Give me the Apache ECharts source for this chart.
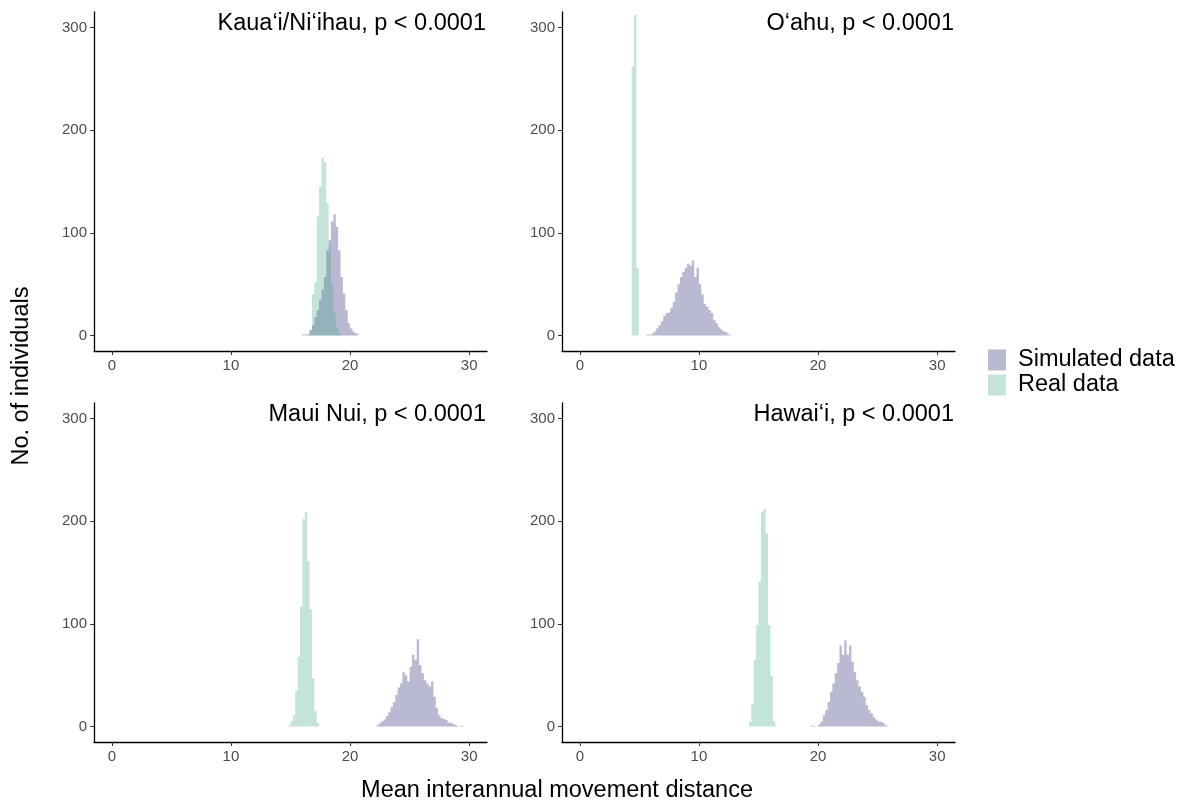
<!DOCTYPE html>
<html>
<head>
<meta charset="utf-8">
<title>Mean interannual movement distance</title>
<script src="https://cdn.jsdelivr.net/npm/echarts@6/dist/echarts.min.js"></script>
<style>
    html, body { margin: 0; padding: 0; background: #fff; }
    #chart { width: 1187px; height: 803px; }
</style>
</head>
<body>
<div id="chart"></div>
<script>
// histogram bins: width of every bin, then the left edge of the first bin and the counts per bin
const binWidth = 0.2;

const panelTitles = ['Kaua‘i/Ni‘ihau, p < 0.0001', 'O‘ahu, p < 0.0001', 'Maui Nui, p < 0.0001', 'Hawai‘i, p < 0.0001'];
const xTicks = [0, 10, 20, 30];
const yTicks = [0, 100, 200, 300];

// Kaua'i / Ni'ihau
const kauaiSimStart = 16.0;
const kauaiSim = [1, 1, 2, 5, 10, 18, 25, 35, 45, 57, 83, 93, 111, 118, 106, 83, 57, 41, 25, 12, 7, 4, 2, 1];
const kauaiRealStart = 16.6;
const kauaiReal = [6, 40, 52, 116, 145, 173, 169, 129, 88, 50, 22, 8, 2];

// O'ahu
const oahuSimStart = 5.6;
const oahuSim = [1, 0, 2, 4, 7, 10, 14, 19, 22, 23, 27, 33, 42, 50, 57, 62, 66, 70, 68, 73, 57, 66, 50, 40, 31, 28, 25, 22, 15, 12, 8, 6, 4, 3, 1, 1];
const oahuRealStart = 4.35;
const oahuReal = [262, 312, 66, 0, 1];

// Maui Nui
const mauiSimStart = 22.2;
const mauiSim = [1, 3, 5, 7, 10, 14, 19, 24, 31, 38, 42, 53, 50, 44, 58, 70, 65, 85, 60, 52, 45, 42, 39, 44, 29, 18, 11, 8, 7, 6, 4, 3, 2, 1, 0, 1, 0, 1];
const mauiRealStart = 14.8;
const mauiReal = [1, 5, 11, 35, 68, 117, 202, 209, 161, 114, 47, 15, 4];

// Hawai'i
const hawaiiSimStart = 19.4;
const hawaiiSim = [1, 0, 0, 2, 5, 11, 16, 24, 34, 42, 52, 62, 79, 70, 84, 70, 79, 63, 53, 45, 39, 34, 29, 21, 16, 13, 9, 7, 5, 4, 3, 1, 1];
const hawaiiRealStart = 14.2;
const hawaiiReal = [5, 22, 65, 99, 141, 209, 212, 188, 99, 49, 5, 1];

const simColor = 'rgba(22, 22, 105, 0.3)';
const realColor = 'rgba(58, 162, 135, 0.3)';
const fontFamily = '"Liberation Sans", Arial, sans-serif';
const bigFont = '23.5px ' + fontFamily;

// left edge + count for each bin, closed by the right edge of the last bin
function toSteps(start, counts) {
    const pts = counts.map((c, i) => [start + i * binWidth, c]);
    pts.push([start + counts.length * binWidth, 0]);
    return pts;
}

const panels = [
    { sim: toSteps(kauaiSimStart, kauaiSim), real: toSteps(kauaiRealStart, kauaiReal) },
    { sim: toSteps(oahuSimStart, oahuSim), real: toSteps(oahuRealStart, oahuReal) },
    { sim: toSteps(mauiSimStart, mauiSim), real: toSteps(mauiRealStart, mauiReal) },
    { sim: toSteps(hawaiiSimStart, hawaiiSim), real: toSteps(hawaiiRealStart, hawaiiReal) }
];

const grids = [
    { left: 94, top: 12, width: 393, height: 339 },
    { left: 562, top: 12, width: 393, height: 339 },
    { left: 94, top: 403, width: 393, height: 339 },
    { left: 562, top: 403, width: 393, height: 339 }
];

const axisLine = { show: true, onZero: false, lineStyle: { color: '#000', width: 1.3 } };
const axisTick = { show: true, length: 4, lineStyle: { color: '#333', width: 1 } };
const axisLabel = { color: '#4d4d4d', fontSize: 15, fontFamily: fontFamily };

const chart = echarts.init(document.getElementById('chart'));

function histSeries(name, color, data, i) {
    return {
        name: name, type: 'line', xAxisIndex: i, yAxisIndex: i,
        data: data, step: 'end', showSymbol: false, symbol: 'none',
        lineStyle: { width: 0, color: color },
        itemStyle: { color: color },
        areaStyle: { color: color, opacity: 1, origin: 0 },
        emphasis: { disabled: true }
    };
}

const series = [];
panels.forEach((p, i) => {
    series.push(histSeries('Simulated data', simColor, p.sim, i));
    series.push(histSeries('Real data', realColor, p.real, i));
});

// panel labels, top right inside each panel
const graphics = grids.map((g, i) => ({
    type: 'text',
    x: g.left + g.width - 1,
    y: g.top + 12,
    style: { text: panelTitles[i], font: bigFont, fill: '#000', align: 'right', verticalAlign: 'middle' }
}));
graphics.push({
    type: 'text', x: 557, y: 791,
    style: { text: 'Mean interannual movement distance', font: bigFont, fill: '#000', align: 'center', verticalAlign: 'middle' }
});
graphics.push({
    type: 'text', x: 22, y: 376, rotation: Math.PI / 2,
    style: { text: 'No. of individuals', font: bigFont, fill: '#000', align: 'center', verticalAlign: 'middle' }
});

const option = {
    animation: false,
    backgroundColor: '#fff',
    grid: grids,
    xAxis: grids.map((g, i) => ({
        type: 'value', gridIndex: i, min: -1.5, max: 31.5,
        axisLine: axisLine,
        axisTick: Object.assign({ customValues: xTicks }, axisTick),
        axisLabel: Object.assign({ customValues: xTicks, margin: 7 }, axisLabel),
        splitLine: { show: false }
    })),
    yAxis: grids.map((g, i) => ({
        type: 'value', gridIndex: i, min: -15, max: 315,
        axisLine: axisLine,
        axisTick: Object.assign({ customValues: yTicks }, axisTick),
        axisLabel: Object.assign({ customValues: yTicks, margin: 7 }, axisLabel),
        splitLine: { show: false }
    })),
    legend: {
        orient: 'vertical', left: 988, top: 348, padding: 0,
        icon: 'rect', itemWidth: 18, itemHeight: 21, itemGap: 1,
        data: ['Simulated data', 'Real data'],
        textStyle: { fontSize: 23.5, color: '#000', fontFamily: fontFamily, padding: [0, 0, 0, 7] }
    },
    graphic: graphics,
    series: series
};

chart.setOption(option);
</script>
</body>
</html>
